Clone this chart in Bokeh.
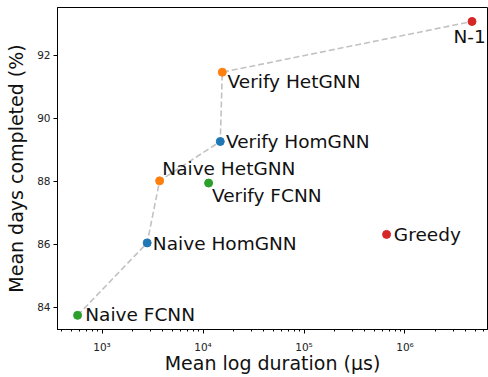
from bokeh.plotting import figure
from bokeh.models import ColumnDataSource, FixedTicker, Range1d
from bokeh.core.properties import value
from bokeh.embed import file_html
from bokeh.resources import INLINE

# Method results: mean inference time (µs) vs mean share of days completed
methods = ["Naive FCNN", "Naive HomGNN", "Naive HetGNN", "Verify FCNN",
           "Verify HomGNN", "Verify HetGNN", "Greedy", "N-1"]
duration_us = [573, 2800, 3720, 11360, 14830, 15520, 657000, 4610000]
days_completed = [83.75, 86.05, 88.02, 87.95, 89.27, 91.47, 86.32, 93.08]
colors = ["#2ca02c", "#1f77b4", "#ff7f0e", "#2ca02c",
          "#1f77b4", "#ff7f0e", "#d62728", "#d62728"]

# Methods on the Pareto front, in drawing order
front = ["Naive FCNN", "Naive HomGNN", "Naive HetGNN",
         "Verify HomGNN", "Verify HetGNN", "N-1"]

# Label placement in screen pixels (x shift, downward shift)
label_dx = [7.7, 5.7, 2.7, 3.4, 5.7, 5.3, 7.3, -18.5]
label_dy = [-0.8, 0.2, -12.8, 12.5, -0.2, 9.1, 0.2, 14.8]

FONT = "DejaVu Sans"

p = figure(width=488, height=377, x_axis_type="log",
           output_backend="svg", toolbar_location=None,
           min_border_left=57, min_border_right=1,
           min_border_top=7, min_border_bottom=48)
p.x_range = Range1d(362.5, 6.56e6)
p.y_range = Range1d(83.30, 93.524)

p.background_fill_color = "white"
p.border_fill_color = "white"
p.outline_line_color = "black"
p.outline_line_width = 1
p.xgrid.visible = False
p.ygrid.visible = False

idx = {m: i for i, m in enumerate(methods)}
p.line([duration_us[idx[m]] for m in front],
       [days_completed[idx[m]] for m in front],
       line_color="#c2c2c2", line_width=1.6, line_dash="6 3")

src = ColumnDataSource(dict(x=duration_us, y=days_completed, c=colors,
                            name=methods, dx=label_dx, dy=label_dy))
p.scatter("x", "y", source=src, size=8, fill_color="c", line_color="c")
p.text("x", "y", text="name", source=src, x_offset="dx", y_offset="dy",
       text_font=value(FONT), text_font_size="18.5px", text_color="#111111",
       text_align="left", text_baseline="alphabetic")

# Axes
decades = [1e3, 1e4, 1e5, 1e6]
minor = [m * 10 ** k for k in range(2, 7) for m in range(2, 10)]
p.xaxis.ticker = FixedTicker(ticks=decades, minor_ticks=minor)
p.xaxis.major_label_overrides = {1e3: "10³", 1e4: "10⁴", 1e5: "10⁵", 1e6: "10⁶"}
p.yaxis.ticker = FixedTicker(ticks=[84, 86, 88, 90, 92])

for ax in (p.xaxis, p.yaxis):
    ax.axis_line_color = "black"
    ax.major_tick_line_color = "black"
    ax.major_tick_out = 4
    ax.major_tick_in = 0
    ax.minor_tick_out = 2
    ax.minor_tick_in = 0
    ax.major_label_text_font = FONT
    ax.major_label_text_font_size = "10.5px"
    ax.major_label_text_color = "#222222"
    ax.axis_label_text_font = FONT
    ax.axis_label_text_font_size = "19px"
    ax.axis_label_text_font_style = "normal"
    ax.axis_label_text_color = "#111111"
p.yaxis.minor_tick_line_color = None
p.xaxis.minor_tick_line_color = "black"
p.xaxis.major_label_standoff = 7
p.yaxis.major_label_standoff = 3
p.xaxis.axis_label_standoff = -4
p.yaxis.axis_label_standoff = 7

p.xaxis.axis_label = "Mean log duration (μs)"
p.yaxis.axis_label = "Mean days completed (%)"

open("out.html", "w").write(file_html(p, INLINE))
